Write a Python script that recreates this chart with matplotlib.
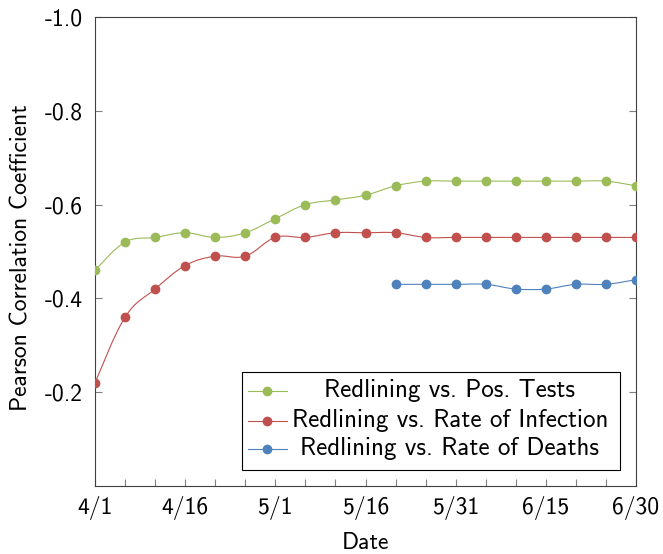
import matplotlib
matplotlib.use("Agg")
import matplotlib.pyplot as plt
from matplotlib.path import Path
from matplotlib.patches import PathPatch, Rectangle
from matplotlib.lines import Line2D
import numpy as np

# ---- data ----
days = [0, 5, 10, 15, 20, 25, 30, 35, 40, 45, 50, 55, 60, 65, 70, 75, 80, 85, 90]
pos_tests = [-0.46, -0.52, -0.53, -0.54, -0.53, -0.54, -0.57, -0.60, -0.61, -0.62,
             -0.64, -0.65, -0.65, -0.65, -0.65, -0.65, -0.65, -0.65, -0.64]
infection = [-0.22, -0.36, -0.42, -0.47, -0.49, -0.49, -0.53, -0.53, -0.54, -0.54,
             -0.54, -0.53, -0.53, -0.53, -0.53, -0.53, -0.53, -0.53, -0.53]
death_days = [50, 55, 60, 65, 70, 75, 80, 85, 90]
deaths = [-0.43, -0.43, -0.43, -0.43, -0.42, -0.42, -0.43, -0.43, -0.44]
xtick_pos = [0, 15, 30, 45, 60, 75, 90]
xtick_labels = ["4/1", "4/16", "5/1", "5/16", "5/31", "6/15", "6/30"]
ytick_pos = [-0.2, -0.4, -0.6, -0.8, -1.0]
ytick_labels = ["-0.2", "-0.4", "-0.6", "-0.8", "-1.0"]
series_names = ["Redlining vs. Pos. Tests", "Redlining vs. Rate of Infection",
                "Redlining vs. Rate of Deaths"]

GREEN = "#9bbb59"
RED = "#c0504d"
BLUE = "#4f81bd"

plt.rcParams["font.family"] = ["cmss10", "DejaVu Sans"]
plt.rcParams["axes.unicode_minus"] = False

FS = 17

fig = plt.figure(figsize=(6.63, 5.54), dpi=100)
ax = fig.add_axes([95 / 663, 1 - 486 / 554, (636 - 95) / 663, (486 - 17) / 554])


def smooth_path(x, y, tension=0.55):
    x = np.asarray(x, float)
    y = np.asarray(y, float)
    pts = np.column_stack([x, y])
    n = len(pts)
    verts = [pts[0]]
    codes = [Path.MOVETO]
    f = tension / 3.0
    for i in range(n - 1):
        p0 = pts[i - 1] if i > 0 else pts[i]
        p1 = pts[i]
        p2 = pts[i + 1]
        p3 = pts[i + 2] if i + 2 < n else pts[i + 1]
        c1 = p1 + f * (p2 - p0)
        c2 = p2 - f * (p3 - p1)
        verts += [c1, c2, p2]
        codes += [Path.CURVE4] * 3
    return Path(verts, codes)


for xs, ys, c in [(days, pos_tests, GREEN), (days, infection, RED), (death_days, deaths, BLUE)]:
    ax.add_patch(PathPatch(smooth_path(xs, ys), facecolor="none", edgecolor=c, lw=0.8, zorder=2))
    ax.plot(xs, ys, linestyle="none", marker="o", markersize=6, color=c,
            markeredgecolor=c, zorder=3)

ax.set_xlim(0, 90)
ax.set_ylim(0, -1.0)

ax.set_xticks(xtick_pos)
ax.set_xticklabels(xtick_labels, fontsize=FS)
ax.set_xticks(days, minor=True)
ax.set_yticks(ytick_pos)
ax.set_yticklabels(ytick_labels, fontsize=FS)

ax.tick_params(axis="both", which="both", direction="in", color="#808080",
               top=False, right=True, width=0.8)
ax.tick_params(axis="x", which="major", length=5, pad=7)
ax.tick_params(axis="x", which="minor", length=5)
ax.tick_params(axis="y", which="major", length=5, pad=9)
for s in ax.spines.values():
    s.set_linewidth(0.8)
    s.set_color("#404040")

ax.set_xlabel("Date", fontsize=FS)
ax.xaxis.set_label_coords(0.5, (486 - 543) / 469)
ax.xaxis.label.set_va("center")
ax.set_ylabel("Pearson Correlation Coefficient", fontsize=FS)
ax.yaxis.set_label_coords((22 - 95) / 541, (486 - 258) / 469)
ax.yaxis.label.set_va("center")

# legend (drawn like pgfplots: centered text)
lx0, lx1 = (242 - 95) / 541, (620 - 95) / 541
ly0, ly1 = (486 - 470) / 469, (486 - 372) / 469
ax.add_patch(Rectangle((lx0, ly0), lx1 - lx0, ly1 - ly0, transform=ax.transAxes,
                       facecolor="white", edgecolor="black", lw=0.8, zorder=5))
rows_y = [(486 - 391) / 469, (486 - 421) / 469, (486 - 449) / 469]
hx0, hx1, hxm = (248 - 95) / 541, (287 - 95) / 541, (267 - 95) / 541
tx = (450 - 95) / 541
for name, c, ry in zip(series_names, [GREEN, RED, BLUE], rows_y):
    ax.add_line(Line2D([hx0, hx1], [ry, ry], transform=ax.transAxes, color=c, lw=0.8, zorder=6))
    ax.add_line(Line2D([hxm], [ry], transform=ax.transAxes, color=c, marker="o",
                       markersize=6, zorder=7))
    ax.text(tx, ry, name, transform=ax.transAxes, ha="center", va="center",
            fontsize=18, zorder=7)

fig.savefig("out.png", dpi=100)
